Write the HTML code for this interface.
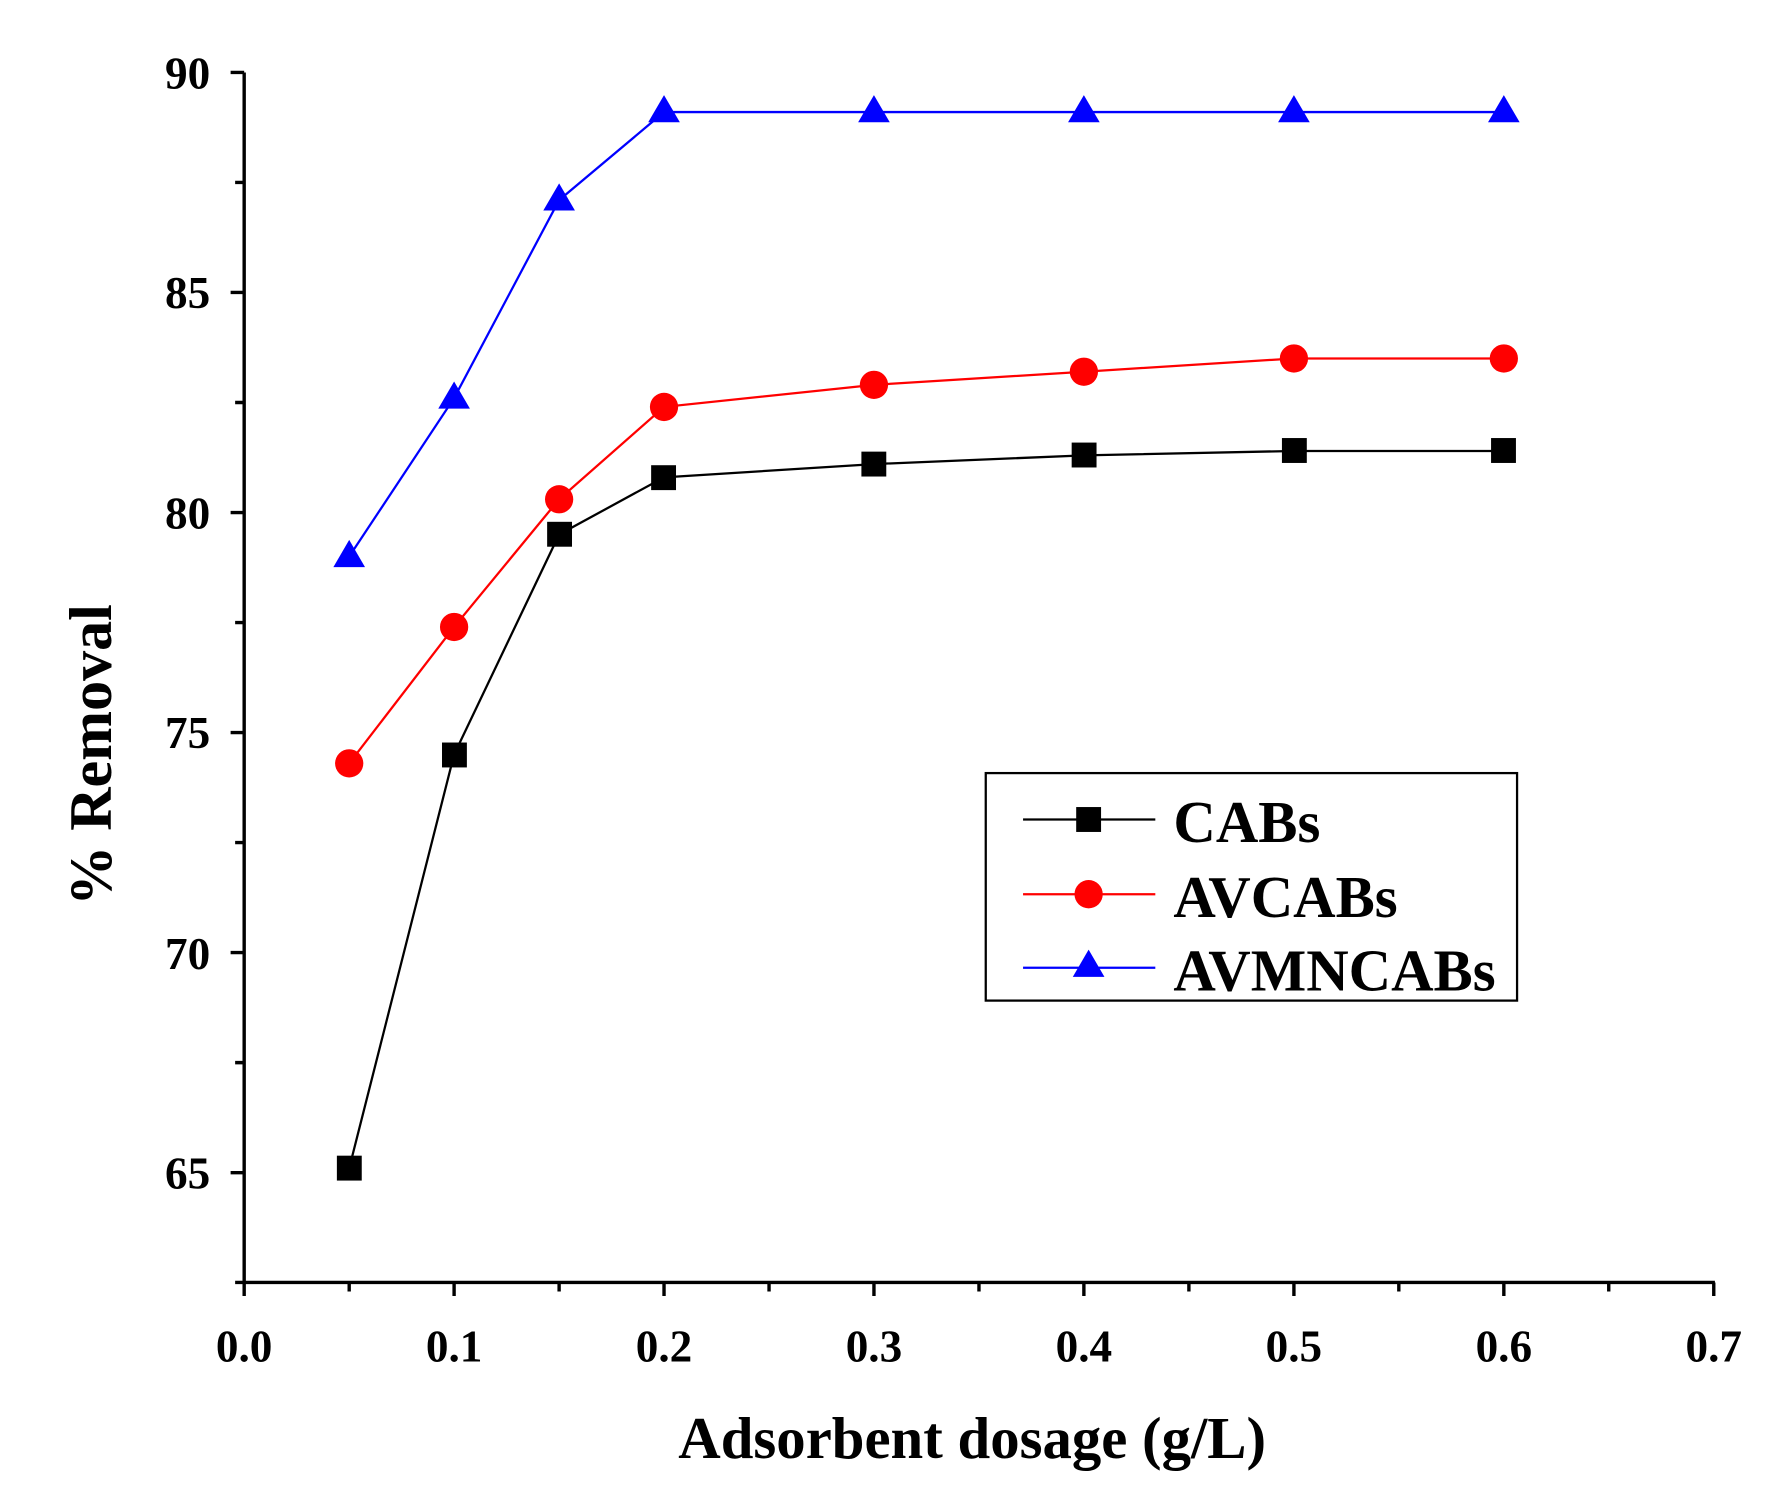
<!DOCTYPE html>
<html><head><style>html,body{margin:0;padding:0;background:#fff}</style></head>
<body>
<svg width="1773" height="1506" viewBox="0 0 1568.4 1330.5" preserveAspectRatio="none" xmlns="http://www.w3.org/2000/svg" font-family="Liberation Serif, serif" font-weight="bold">
<g stroke="#000" stroke-width="3" fill="none">
<line x1="216" y1="64" x2="216" y2="1134"/>
<line x1="215" y1="1133" x2="1517" y2="1133"/>
<path d="M204 64H216M204 258.4H216M204 452.8H216M204 647.2H216M204 841.6H216M204 1036H216M208 161.2H216M208 355.6H216M208 550H216M208 744.4H216M208 938.8H216M208 1133H216"/>
<path d="M216 1133V1145M401.7 1133V1145M587.4 1133V1145M773.1 1133V1145M958.8 1133V1145M1144.6 1133V1145M1330.3 1133V1145M1516 1133V1145M308.9 1133V1141M494.6 1133V1141M680.3 1133V1141M866 1133V1141M1051.7 1133V1141M1237.4 1133V1141M1423.1 1133V1141"/>
</g>
<g font-size="40" text-anchor="end">
<text x="186" y="78">90</text><text x="186" y="272">85</text><text x="186" y="467">80</text><text x="186" y="661">75</text><text x="186" y="856">70</text><text x="186" y="1050">65</text>
</g>
<g font-size="40" text-anchor="middle">
<text x="216" y="1203">0.0</text><text x="401.7" y="1203">0.1</text><text x="587.4" y="1203">0.2</text><text x="773.1" y="1203">0.3</text><text x="958.8" y="1203">0.4</text><text x="1144.6" y="1203">0.5</text><text x="1330.3" y="1203">0.6</text><text x="1516" y="1203">0.7</text>
</g>
<text x="860" y="1288" font-size="52" text-anchor="middle">Adsorbent dosage (g/L)</text>
<text transform="translate(98,667) rotate(-90)" font-size="53" text-anchor="middle">% Removal</text>
<polyline fill="none" stroke="#000" stroke-width="2" points="308.9,1032.1 401.7,666.6 494.6,472.2 587.4,421.7 773.1,410 958.8,402.3 1144.6,398.4 1330.3,398.4"/>
<g fill="#000">
<rect x="298" y="1021" width="22" height="22"/><rect x="391" y="656" width="22" height="22"/><rect x="484" y="461" width="22" height="22"/><rect x="576" y="411" width="22" height="22"/><rect x="762" y="399" width="22" height="22"/><rect x="948" y="391" width="22" height="22"/><rect x="1134" y="387" width="22" height="22"/><rect x="1319" y="387" width="22" height="22"/>
</g>
<polyline fill="none" stroke="#f00" stroke-width="2" points="308.9,674.4 401.7,553.9 494.6,441.1 587.4,359.5 773.1,340 958.8,328.4 1144.6,316.7 1330.3,316.7"/>
<g fill="#f00">
<circle cx="308.9" cy="674.4" r="12.5"/><circle cx="401.7" cy="553.9" r="12.5"/><circle cx="494.6" cy="441.1" r="12.5"/><circle cx="587.4" cy="359.5" r="12.5"/><circle cx="773.1" cy="340" r="12.5"/><circle cx="958.8" cy="328.4" r="12.5"/><circle cx="1144.6" cy="316.7" r="12.5"/><circle cx="1330.3" cy="316.7" r="12.5"/>
</g>
<polyline fill="none" stroke="#00f" stroke-width="2" points="308.9,491.7 401.7,351.7 494.6,176.8 587.4,99 773.1,99 958.8,99 1144.6,99 1330.3,99"/>
<g fill="#00f">
<path d="M308.9 477l14 24h-28z"/><path d="M401.7 337l14 24h-28z"/><path d="M494.6 162l14 24h-28z"/><path d="M587.4 84l14 24h-28z"/><path d="M773.1 84l14 24h-28z"/><path d="M958.8 84l14 24h-28z"/><path d="M1144.6 84l14 24h-28z"/><path d="M1330.3 84l14 24h-28z"/>
</g>
<rect x="872" y="683" width="470" height="201" fill="none" stroke="#000" stroke-width="2"/>
<line x1="905" y1="724" x2="1022" y2="724" stroke="#000" stroke-width="2"/>
<rect x="952" y="713" width="22" height="22" fill="#000"/>
<line x1="905" y1="790" x2="1022" y2="790" stroke="#f00" stroke-width="2"/>
<circle cx="963" cy="790" r="12.5" fill="#f00"/>
<line x1="905" y1="855" x2="1022" y2="855" stroke="#00f" stroke-width="2"/>
<path d="M963 839l14 24h-28z" fill="#00f"/>
<g font-size="52">
<text x="1038" y="744">CABs</text><text x="1038" y="810">AVCABs</text><text x="1038" y="875">AVMNCABs</text>
</g>
</svg>
</body></html>
